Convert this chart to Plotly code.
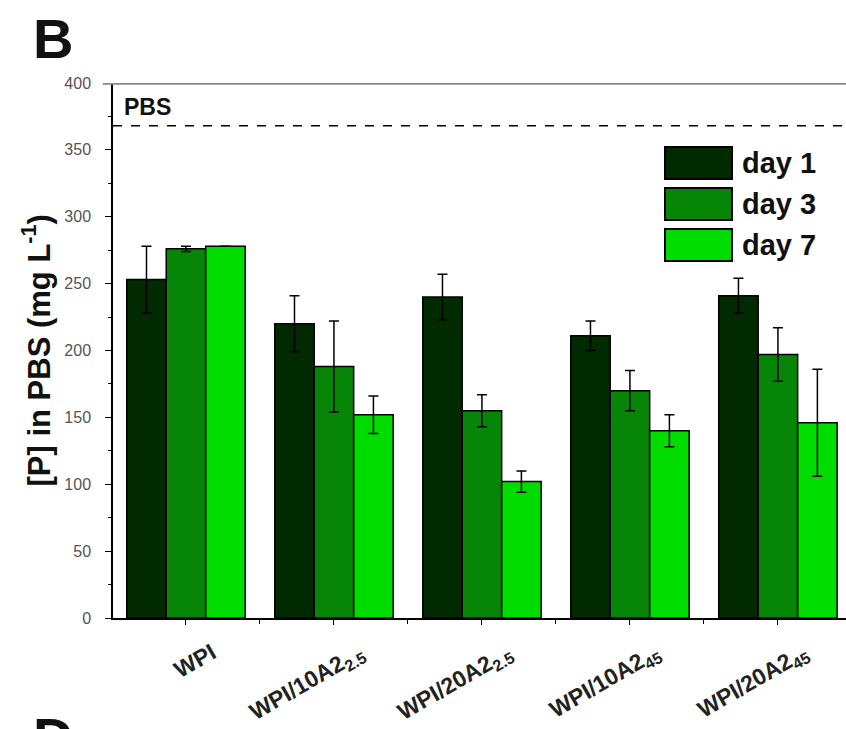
import plotly.graph_objects as go

# ---- data ----
categories = ["WPI", "WPI/10A2<sub>2.5</sub>", "WPI/20A2<sub>2.5</sub>",
              "WPI/10A2<sub>45</sub>", "WPI/20A2<sub>45</sub>"]
series_names = ["day 1", "day 3", "day 7"]
day1 = [253, 220, 240, 211, 241]
day3 = [276, 188, 155, 170, 197]
day7 = [278, 152, 102, 140, 146]
day1_err = [25, 21, 17, 11, 13]
day3_err = [2, 34, 12, 15, 20]
day7_err = [0, 14, 8, 12, 40]
pbs_level = 368
y_ticks = [0, 50, 100, 150, 200, 250, 300, 350, 400]

colors = ["#012a01", "#078507", "#00dc00"]
FONT = "Liberation Sans, Arial, sans-serif"

x_pos = list(range(len(categories)))
values = [day1, day3, day7]
errors = [day1_err, day3_err, day7_err]

fig = go.Figure()
for name, vals, errs, col in zip(series_names, values, errors, colors):
    fig.add_trace(go.Bar(
        x=x_pos, y=vals, name=name,
        marker=dict(color=col, line=dict(color="black", width=1.5)),
        error_y=dict(type="data", array=errs, visible=True,
                     color="black", thickness=1.5, width=5),
        showlegend=False,
    ))

fig.update_layout(
    width=846, height=729,
    margin=dict(l=113, r=0, t=83, b=111),
    paper_bgcolor="white", plot_bgcolor="white",
    barmode="group", bargap=0.2, bargroupgap=0,
    font=dict(family=FONT, color="black"),
)

fig.update_xaxes(
    range=[-0.493, 4.46], automargin=False,
    tickmode="array", tickvals=x_pos,
    ticktext=["<b>" + c + "</b>" for c in categories],
    tickangle=-30,
    tickfont=dict(family=FONT, size=23, color="#222"),
    ticks="outside", ticklen=5, tickwidth=1.2, tickcolor="black",
    ticklabelshift=26, ticklabelstandoff=6,
    minor=dict(tickmode="array", tickvals=[i + 0.5 for i in x_pos[:-1]],
               ticks="outside", ticklen=4, tickcolor="black"),
    showline=True, linecolor="black", linewidth=1.5,
    showgrid=False, zeroline=False,
)

fig.update_yaxes(
    range=[0, 400], automargin=False,
    tickmode="array", tickvals=y_ticks,
    tickfont=dict(family=FONT, size=16, color="#555"),
    ticks="outside", ticklen=6, tickwidth=1.2, tickcolor="black",
    ticklabelstandoff=11,
    minor=dict(dtick=25, tick0=0, ticks="outside", ticklen=3, tickcolor="black"),
    showline=True, linecolor="black", linewidth=1.5,
    showgrid=False, zeroline=False,
)

# top frame line (grey) and PBS reference line
fig.add_shape(type="line", xref="paper", yref="y", x0=-0.014, x1=1, y0=400, y1=400,
              line=dict(color="#8a8a8a", width=3.5))
fig.add_shape(type="line", xref="paper", yref="y", x0=0, x1=1, y0=pbs_level, y1=pbs_level,
              line=dict(color="black", width=1.5, dash="dash"))
fig.add_annotation(text="<b>PBS</b>", xref="paper", yref="y", x=0.012, y=pbs_level,
                   xanchor="left", yanchor="bottom", yshift=4, showarrow=False,
                   font=dict(family=FONT, size=23, color="#111"))

# y-axis title
fig.add_annotation(text="<b>[P] in PBS (mg L<sup>-1</sup>)</b>", xref="paper", yref="paper",
                   x=-77 / 733, y=0.5, textangle=-90, showarrow=False,
                   xanchor="center", yanchor="middle",
                   font=dict(family=FONT, size=31, color="#111"))

# legend (drawn manually to reproduce the large swatches)
leg_y = [163, 204, 245]  # pixel centres
for name, col, py in zip(series_names, colors, leg_y):
    y_c = 1 - (py - 83) / 535
    h = 16 / 535
    fig.add_shape(type="rect", xref="paper", yref="paper",
                  x0=(665 - 113) / 733, x1=(732 - 113) / 733,
                  y0=y_c - h, y1=y_c + h,
                  fillcolor=col, line=dict(color="black", width=2))
    fig.add_annotation(text="<b>" + name + "</b>", xref="paper", yref="paper",
                       x=(740 - 113) / 733, y=y_c, xanchor="left", yanchor="middle",
                       showarrow=False, font=dict(family=FONT, size=29, color="#111"))

# panel letters
fig.add_annotation(text="<b>B</b>", xref="paper", yref="paper",
                   x=-60 / 733, y=1 + 45 / 535, xanchor="center", yanchor="middle",
                   showarrow=False, font=dict(family=FONT, size=56, color="#111"))
fig.add_annotation(text="<b>D</b>", xref="paper", yref="paper",
                   x=-60 / 733, y=-(704 - 618) / 535, xanchor="center", yanchor="top",
                   showarrow=False, font=dict(family=FONT, size=56, color="#111"))

fig.write_html("out.html")
